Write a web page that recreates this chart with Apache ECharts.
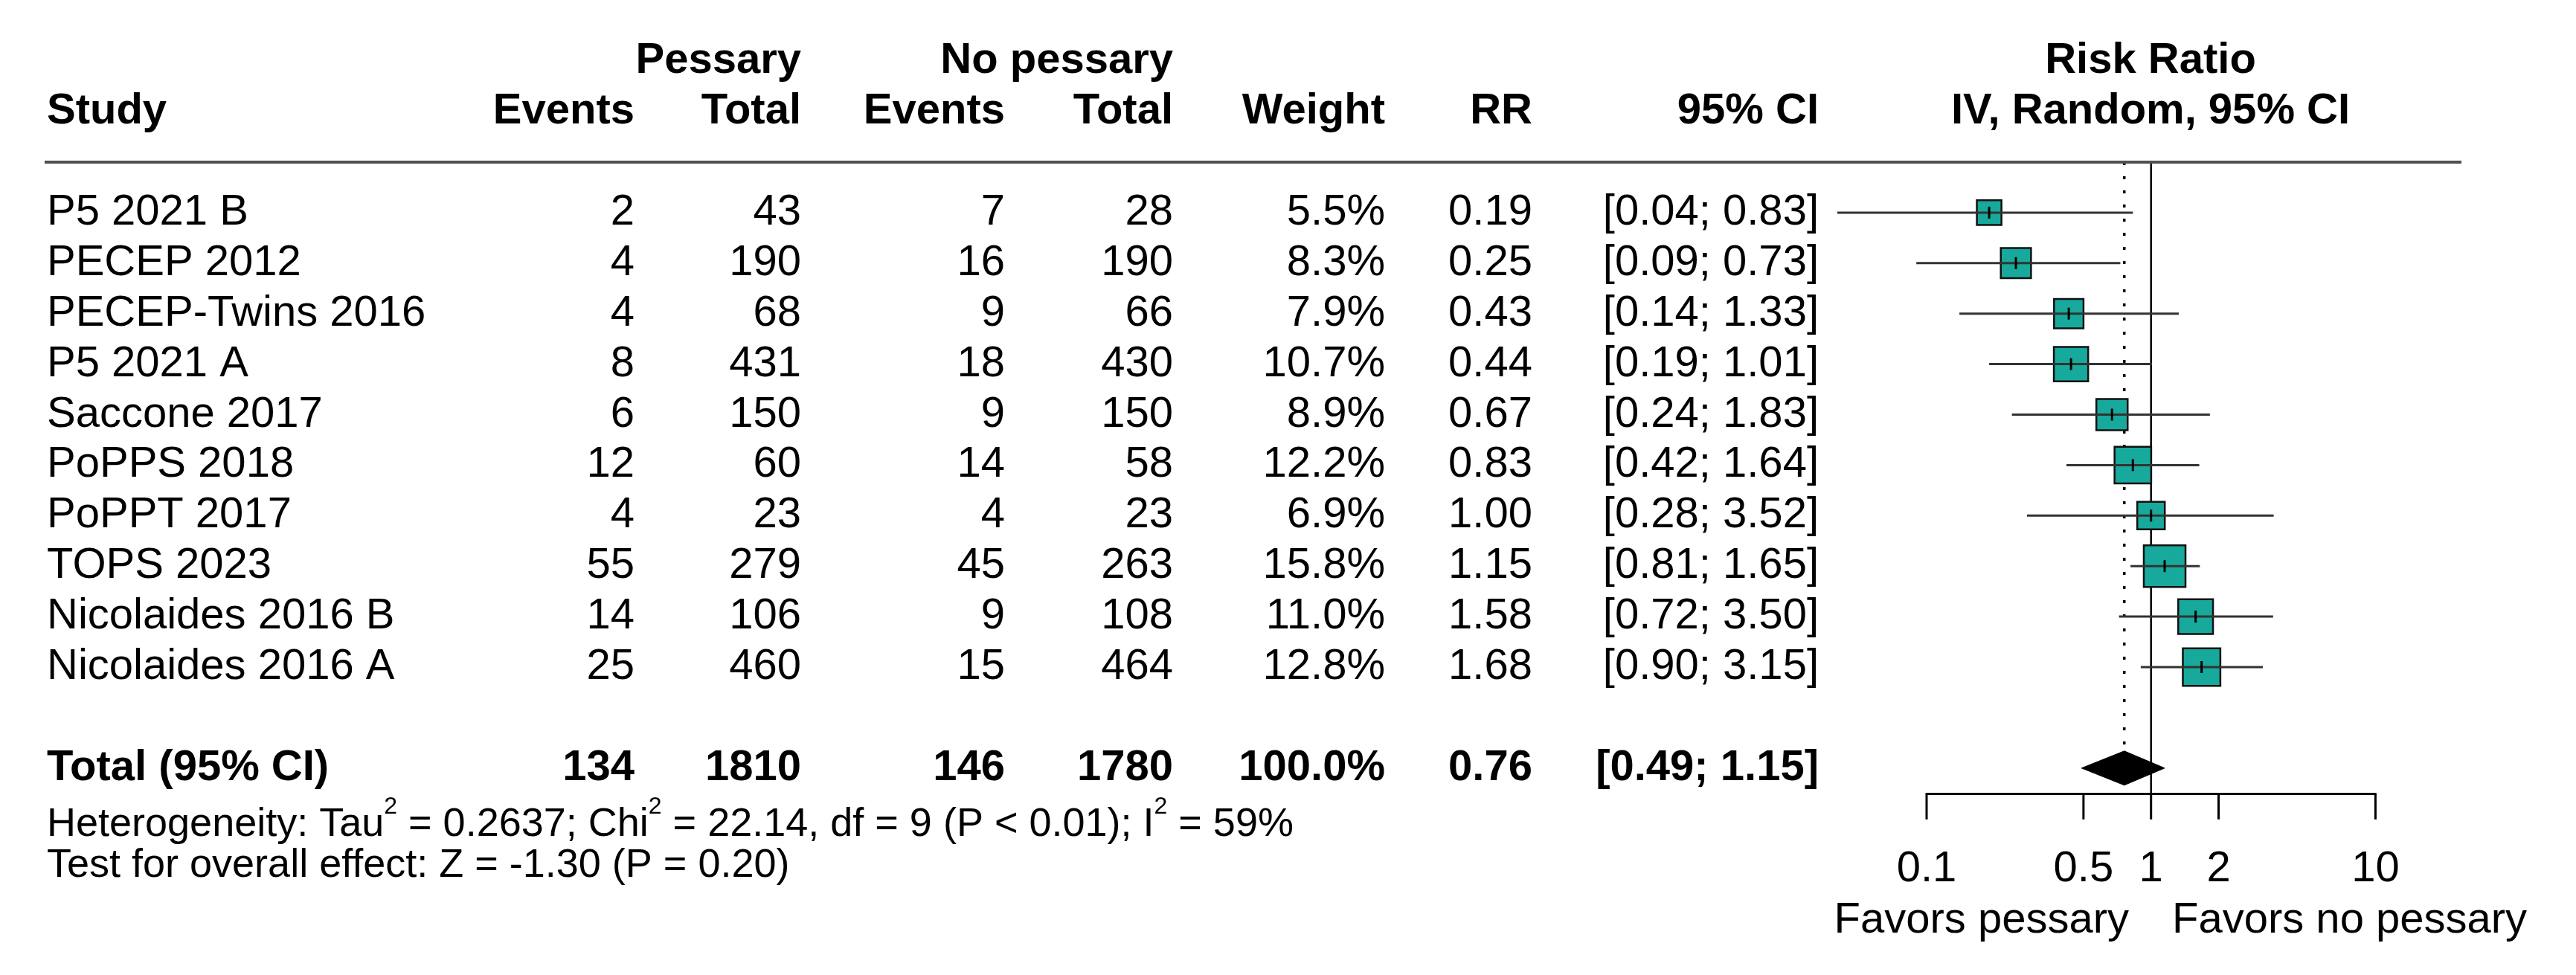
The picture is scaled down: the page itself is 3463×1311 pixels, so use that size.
<!DOCTYPE html>
<html><head><meta charset="utf-8">
<script src="https://cdn.jsdelivr.net/npm/echarts@6/dist/echarts.min.js"></script>
<style>html,body{margin:0;padding:0;background:#fff}#c{width:3463px;height:1311px}</style>
</head><body><div id="c"></div>
<script>
// ---------- data ----------
const studies = ['P5 2021 B','PECEP 2012','PECEP-Twins 2016','P5 2021 A','Saccone 2017','PoPPS 2018','PoPPT 2017','TOPS 2023','Nicolaides 2016 B','Nicolaides 2016 A'];
const pessaryEvents = [2,4,4,8,6,12,4,55,14,25];
const pessaryTotal = [43,190,68,431,150,60,23,279,106,460];
const noPessaryEvents = [7,16,9,18,9,14,4,45,9,15];
const noPessaryTotal = [28,190,66,430,150,58,23,263,108,464];
const weights = [5.5,8.3,7.9,10.7,8.9,12.2,6.9,15.8,11.0,12.8];
const riskRatio = [0.19,0.25,0.43,0.44,0.67,0.83,1.00,1.15,1.58,1.68];
const ciLow = [0.04,0.09,0.14,0.19,0.24,0.42,0.28,0.81,0.72,0.90];
const ciHigh = [0.83,0.73,1.33,1.01,1.83,1.64,3.52,1.65,3.50,3.15];
const totalRow = {label:'Total (95% CI)', pe:134, pt:1810, ne:146, nt:1780, weight:'100.0%', rr:0.76, lo:0.49, hi:1.15};
const tickValues = [0.1, 0.5, 1, 2, 10];
const tickLabels = ['0.1', '0.5', '1', '2', '10'];
const hetText = 'Heterogeneity: Tau{sup|2} = 0.2637; Chi{sup|2} = 22.14, df = 9 (P < 0.01); I{sup|2} = 59%';
const testText = 'Test for overall effect: Z = -1.30 (P = 0.20)';

// ---------- layout / style ----------
const FONT = '"Liberation Sans", Arial, Helvetica, sans-serif';
const FS = 58;
const FS_SMALL = 54;
const TEAL = '#17a99b';
const COL = {study:63, ev1:853, tot1:1077, ev2:1351, tot2:1577, w:1862, rr:2060, ci:2445, plot:2891};
const TOTAL_Y = 12;

function fmtCI(l,h){ return '[' + l.toFixed(2) + '; ' + h.toFixed(2) + ']'; }

// table rows built from the arrays
const tableRows = [];
tableRows.push({row:-2, cells:[
  {t:'Pessary', x:COL.tot1, a:'right', b:true},
  {t:'No pessary', x:COL.tot2, a:'right', b:true},
  {t:'Risk Ratio', x:COL.plot, a:'center', b:true}
]});
tableRows.push({row:-1, cells:[
  {t:'Study', x:COL.study, a:'left', b:true},
  {t:'Events', x:COL.ev1, a:'right', b:true},
  {t:'Total', x:COL.tot1, a:'right', b:true},
  {t:'Events', x:COL.ev2, a:'right', b:true},
  {t:'Total', x:COL.tot2, a:'right', b:true},
  {t:'Weight', x:COL.w, a:'right', b:true},
  {t:'RR', x:COL.rr, a:'right', b:true},
  {t:'95% CI', x:COL.ci, a:'right', b:true},
  {t:'IV, Random, 95% CI', x:COL.plot, a:'center', b:true}
]});
studies.forEach((s,i)=>{
  tableRows.push({row:i+1, cells:[
    {t:s, x:COL.study, a:'left'},
    {t:String(pessaryEvents[i]), x:COL.ev1, a:'right'},
    {t:String(pessaryTotal[i]), x:COL.tot1, a:'right'},
    {t:String(noPessaryEvents[i]), x:COL.ev2, a:'right'},
    {t:String(noPessaryTotal[i]), x:COL.tot2, a:'right'},
    {t:weights[i].toFixed(1)+'%', x:COL.w, a:'right'},
    {t:riskRatio[i].toFixed(2), x:COL.rr, a:'right'},
    {t:fmtCI(ciLow[i],ciHigh[i]), x:COL.ci, a:'right'}
  ]});
});
tableRows.push({row:TOTAL_Y, cells:[
  {t:totalRow.label, x:COL.study, a:'left', b:true},
  {t:String(totalRow.pe), x:COL.ev1, a:'right', b:true},
  {t:String(totalRow.pt), x:COL.tot1, a:'right', b:true},
  {t:String(totalRow.ne), x:COL.ev2, a:'right', b:true},
  {t:String(totalRow.nt), x:COL.tot2, a:'right', b:true},
  {t:totalRow.weight, x:COL.w, a:'right', b:true},
  {t:totalRow.rr.toFixed(2), x:COL.rr, a:'right', b:true},
  {t:fmtCI(totalRow.lo,totalRow.hi), x:COL.ci, a:'right', b:true}
]});

const chart = echarts.init(document.getElementById('c'));
const GRID_TOP = 218, GRID_H = 848.75;

const option = {
  animation:false,
  backgroundColor:'#ffffff',
  grid:{left:2590, width:603.4, top:GRID_TOP, height:GRID_H},
  xAxis:{type:'log', logBase:10, min:0.1, max:10, position:'bottom',
    axisLine:{show:true, onZero:false, lineStyle:{color:'#000', width:3}},
    axisTick:{show:false}, axisLabel:{show:false}, splitLine:{show:false}},
  yAxis:{type:'value', inverse:true, min:0, max:12.5, show:false},
  graphic:[
    {type:'line', shape:{x1:60, y1:GRID_TOP, x2:3309, y2:GRID_TOP}, style:{stroke:'#505050', lineWidth:4}, z:10},
    {type:'text', x:COL.study, y:1109, style:{text:hetText, fill:'#000', fontSize:FS_SMALL, fontFamily:FONT, align:'left', verticalAlign:'middle', lineHeight:80,
      rich:{sup:{fontSize:32, fontFamily:FONT, fill:'#000', lineHeight:40, verticalAlign:'top'}}}},
    {type:'text', x:COL.study, y:1164, style:{text:testText, fill:'#000', fontSize:FS_SMALL, fontFamily:FONT, align:'left', verticalAlign:'middle'}},
    {type:'text', x:2862, y:1238, style:{text:'Favors pessary', fill:'#000', fontSize:FS, fontFamily:FONT, align:'right', verticalAlign:'middle'}},
    {type:'text', x:2920, y:1238, style:{text:'Favors no pessary', fill:'#000', fontSize:FS, fontFamily:FONT, align:'left', verticalAlign:'middle'}}
  ],
  series:[
    { // reference lines: no effect (1) and pooled estimate
      type:'custom', clip:false, z:1,
      data:[[1, 0], [totalRow.rr, 0]],
      renderItem(params, api){
        const x = api.value(0);
        const top = api.coord([x, 0]);
        if (params.dataIndex === 0) {
          const bot = api.coord([x, 12.5]);
          return {type:'line', shape:{x1:top[0], y1:top[1], x2:bot[0], y2:bot[1]}, style:{stroke:'#000', lineWidth:2.5}};
        }
        const bot = api.coord([x, TOTAL_Y]);
        return {type:'line', shape:{x1:top[0], y1:top[1], x2:bot[0], y2:bot[1]-24}, style:{stroke:'#000', lineWidth:3.5, lineDash:[4,15]}};
      }
    },
    { // studies
      type:'custom', clip:false, z:3,
      data: studies.map((s,i)=>[riskRatio[i], ciLow[i], ciHigh[i], weights[i], i+1]),
      renderItem(params, api){
        const row = api.value(4);
        const pc = api.coord([api.value(0), row]);
        const pl = api.coord([api.value(1), row]);
        const ph = api.coord([api.value(2), row]);
        const s = Math.sqrt(api.value(3)) * 14.1;
        return {type:'group', children:[
          {type:'rect', shape:{x:pc[0]-s/2, y:pc[1]-s/2, width:s, height:s}, style:{fill:TEAL, stroke:'#111', lineWidth:2.5}},
          {type:'line', shape:{x1:pl[0], y1:pl[1], x2:ph[0], y2:ph[1]}, style:{stroke:'#333', lineWidth:3}},
          {type:'line', shape:{x1:pc[0], y1:pc[1]-8, x2:pc[0], y2:pc[1]+8}, style:{stroke:'#000', lineWidth:3}}
        ]};
      }
    },
    { // pooled diamond
      type:'custom', clip:false, z:3,
      data:[[totalRow.rr, totalRow.lo, totalRow.hi, TOTAL_Y]],
      renderItem(params, api){
        const row = api.value(3);
        const pc = api.coord([api.value(0), row]);
        const pl = api.coord([api.value(1), row]);
        const ph = api.coord([api.value(2), row]);
        const h = 23;
        return {type:'polygon', shape:{points:[[pl[0],pl[1]],[pc[0],pc[1]-h],[ph[0],ph[1]],[pc[0],pc[1]+h]]}, style:{fill:'#000', stroke:'#000', lineWidth:1}};
      }
    },
    { // axis ticks and labels
      type:'custom', clip:false, z:3,
      data: tickValues.map(v=>[v, 12.5]),
      renderItem(params, api){
        const p = api.coord([api.value(0), api.value(1)]);
        return {type:'group', children:[
          {type:'line', shape:{x1:p[0], y1:p[1], x2:p[0], y2:p[1]+35}, style:{stroke:'#000', lineWidth:3}},
          {type:'text', x:p[0], y:p[1]+102, style:{text:tickLabels[params.dataIndex], fill:'#000', fontSize:FS, fontFamily:FONT, align:'center', verticalAlign:'middle'}}
        ]};
      }
    },
    { // table text
      type:'custom', clip:false, z:4,
      data: tableRows.map(r=>[1, r.row]),
      renderItem(params, api){
        const y = api.coord([1, api.value(1)])[1];
        const r = tableRows[params.dataIndex];
        return {type:'group', children: r.cells.map(c=>({
          type:'text', x:c.x, y:y,
          style:{text:c.t, fill:'#000', fontSize:FS, fontFamily:FONT, fontWeight:c.b?'bold':'normal', align:c.a, verticalAlign:'middle'}
        }))};
      }
    }
  ]
};
chart.setOption(option);
</script>
</body></html>
